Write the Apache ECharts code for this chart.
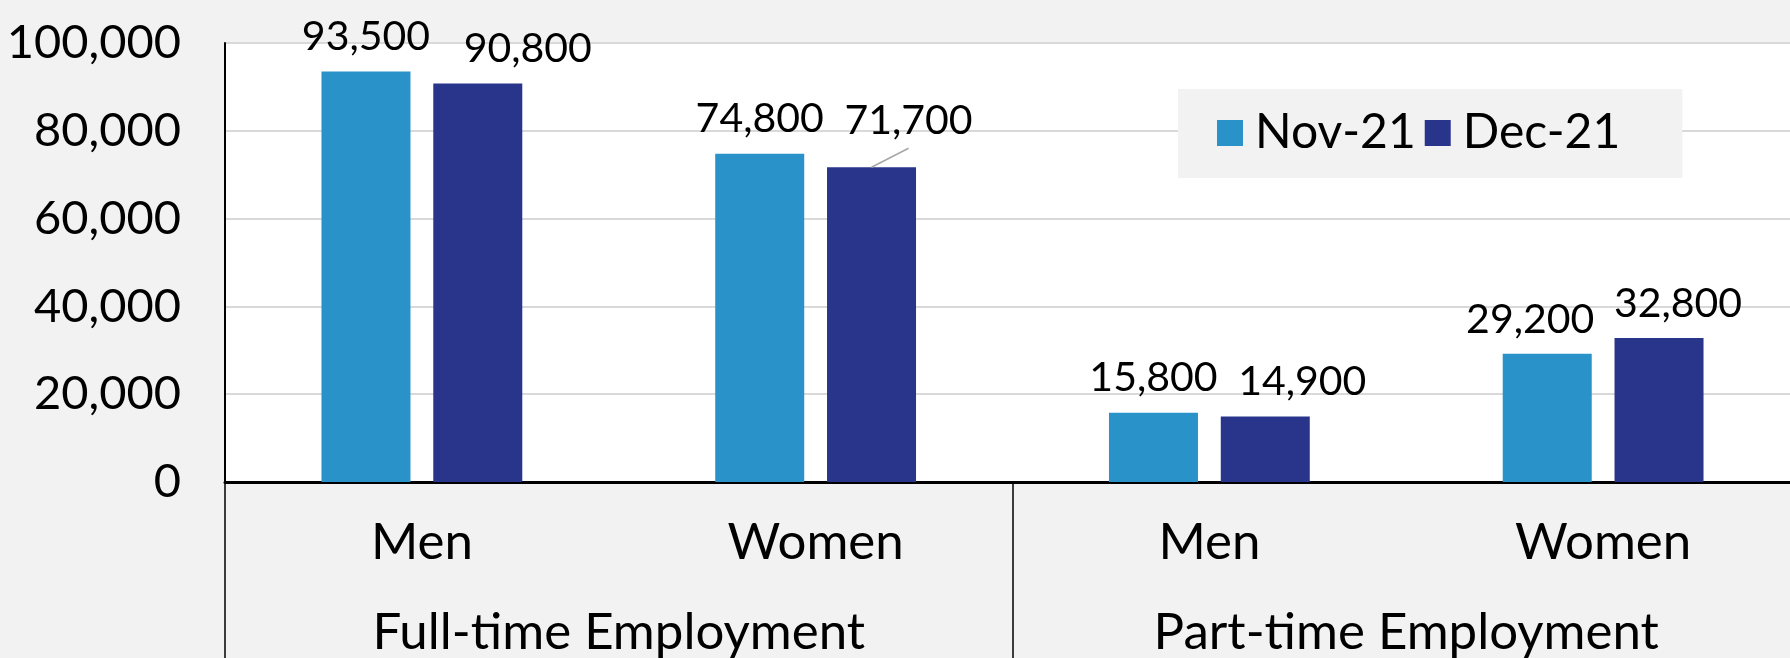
<!DOCTYPE html>
<html>
<head>
<meta charset="utf-8">
<script src="https://cdn.jsdelivr.net/npm/echarts@6/dist/echarts.min.js"></script>
<style>
html,body{margin:0;padding:0;background:#f2f2f2;}
#chart{width:1790px;height:658px;}
</style>
</head>
<body>
<div id="chart"></div>
<script>
const categories = ['Men', 'Women', 'Men', 'Women'];
const groups = ['Full-time Employment', 'Part-time Employment'];
const seriesNames = ['Nov-21', 'Dec-21'];
const nov21 = [93500, 74800, 15800, 29200];
const dec21 = [90800, 71700, 14900, 32800];
const yTicks = [0, 20000, 40000, 60000, 80000, 100000];

const FONT = 'Lato';
const fmt = v => Number(v).toLocaleString('en-US');

const BAR_W = 89, BAR_GAP = 22.8;
// label nudges to avoid overlaps (as in the original)
const novShift = [[0,0],[0,0],[0,0],[-17,0]];
const decShift = [[50,0],[37,-12],[37,0],[19,0]];
const leaderIdx = 1; // Dec-21 Women (full-time) label has a leader line

const shiftLayout = shift => p => ({dx: shift[p.dataIndex][0], dy: shift[p.dataIndex][1]});

const chart = echarts.init(document.getElementById('chart'), null, {renderer:'canvas'});
chart.setOption({
  backgroundColor: '#f2f2f2',
  animation: false,
  textStyle: {fontFamily: FONT},
  grid: {left: 225, width: 1575, top: 43, bottom: 176, show: true, backgroundColor: '#ffffff', borderWidth: 0,
         containLabel: false, outerBoundsMode: 'none'},
  legend: {
    data: seriesNames,
    left: 1178, top: 89,
    backgroundColor: '#f2f2f2',
    padding: [20, 62, 21, 39],
    itemWidth: 26, itemHeight: 26, itemGap: 9,
    icon: 'rect',
    textStyle: {fontFamily: FONT, fontSize: 48, color: '#000', lineHeight: 48, padding: [0,0,0,7]}
  },
  xAxis: [{
    type: 'category', data: categories, position: 'bottom',
    axisLine: {show: true, lineStyle: {color: '#000', width: 3}},
    axisTick: {show: true, length: 180, interval: (i) => i % 2 === 0, lineStyle: {color: '#000', width: 1.5}},
    axisLabel: {fontFamily: FONT, fontSize: 51, color: '#000', margin: 35, interval: 0},
    splitLine: {show: false}
  }, {
    type: 'category', data: groups, position: 'bottom',
    axisLine: {show: false}, axisTick: {show: false},
    axisLabel: {fontFamily: FONT, fontSize: 51, color: '#000', margin: 125, interval: 0},
    splitLine: {show: false}
  }],
  yAxis: {
    type: 'value', min: yTicks[0], max: yTicks[yTicks.length-1], interval: yTicks[1]-yTicks[0],
    axisLine: {show: true, lineStyle: {color: '#000', width: 2}},
    axisTick: {show: false},
    axisLabel: {fontFamily: FONT, fontSize: 47, color: '#000', margin: 44, formatter: fmt},
    splitLine: {show: true, lineStyle: {color: '#d9d9d9', width: 2}}
  },
  series: [{
    name: seriesNames[0], type: 'bar', xAxisIndex: 0,
    data: nov21,
    barWidth: BAR_W, barGap: (BAR_GAP / BAR_W * 100) + '%',
    itemStyle: {color: '#2892c9'},
    label: {show: true, position: 'top', distance: 14, fontFamily: FONT, fontSize: 41, color: '#000', formatter: p => fmt(p.value)},
    labelLayout: shiftLayout(novShift)
  }, {
    name: seriesNames[1], type: 'bar', xAxisIndex: 0,
    data: dec21,
    barWidth: BAR_W, barGap: (BAR_GAP / BAR_W * 100) + '%',
    itemStyle: {color: '#29348b'},
    label: {show: true, position: 'top', distance: 14, fontFamily: FONT, fontSize: 41, color: '#000', formatter: p => fmt(p.value)},
    labelLayout: shiftLayout(decShift)
  }, {
    // leader line from the Dec-21 bar top to its nudged label
    type: 'custom', xAxisIndex: 0, silent: true, z: 3,
    data: [[leaderIdx, dec21[leaderIdx]]],
    encode: {x: 0, y: 1},
    renderItem: (params, api) => {
      const c = api.coord([api.value(0), api.value(1)]);
      const x0 = c[0] + (BAR_W + BAR_GAP) / 2, y0 = c[1];
      return {type: 'line', shape: {x1: x0, y1: y0, x2: x0 + 37, y2: y0 - 19},
              style: {stroke: '#a6a6a6', lineWidth: 1.5}};
    }
  }]
});
</script>
</body>
</html>
